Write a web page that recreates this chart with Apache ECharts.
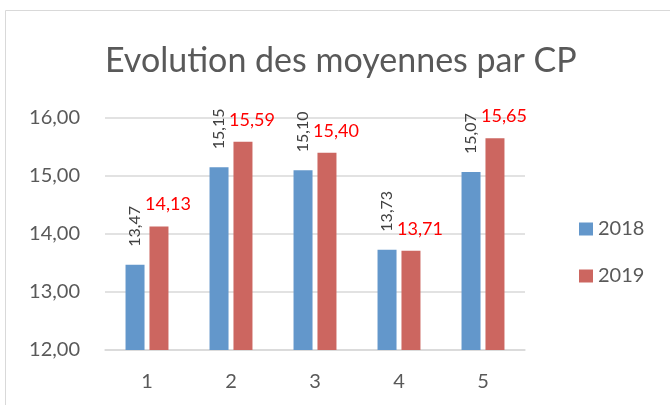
<!DOCTYPE html>
<html>
<head>
<meta charset="utf-8">
<script src="https://cdn.jsdelivr.net/npm/echarts@6/dist/echarts.min.js"></script>
<style>
  html, body { margin: 0; padding: 0; background: #fff; }
  #chart { width: 670px; height: 405px; }
</style>
</head>
<body>
<div id="chart"></div>
<script>
// categories (CP) and the two yearly averages
var categories = ["1", "2", "3", "4", "5"];
var values2018 = [13.47, 15.15, 15.10, 13.73, 15.07];
var values2019 = [14.13, 15.59, 15.40, 13.71, 15.65];
var seriesNames = ["2018", "2019"];
var yTicks = [12, 13, 14, 15, 16];

function frNum(v) {
  return Number(v).toFixed(2).replace(".", ",");
}

var myChart = echarts.init(document.getElementById("chart"));
var font = "Lato";

var option = {
  backgroundColor: "#fff",
  animation: false,
  textStyle: { fontFamily: font },
  graphic: [
    {
      type: "rect",
      shape: { x: 5.5, y: 10.5, width: 700, height: 420 },
      style: { fill: "none", stroke: "#d9d9d9", lineWidth: 1 },
      silent: true,
    },
  ],
  title: {
    text: "Evolution des moyennes par CP",
    left: 105,
    top: 44,
    padding: 0,
    textStyle: { fontFamily: font, fontSize: 34, fontWeight: "normal", color: "#595959" },
  },
  legend: {
    orient: "vertical",
    left: 574,
    top: 214,
    itemWidth: 14,
    itemHeight: 13,
    itemGap: 27,
    icon: "rect",
    data: seriesNames,
    textStyle: { fontFamily: font, fontSize: 20, color: "#595959" },
  },
  grid: { left: 105, right: 145, top: 118, bottom: 55 },
  xAxis: {
    type: "category",
    data: categories,
    axisLine: { lineStyle: { color: "#d9d9d9", width: 1.5 } },
    axisTick: { show: false },
    axisLabel: { color: "#595959", fontSize: 20, margin: 22 },
  },
  yAxis: {
    type: "value",
    min: yTicks[0],
    max: yTicks[yTicks.length - 1],
    interval: 1,
    axisLine: { show: false },
    axisTick: { show: false },
    splitLine: { lineStyle: { color: "#d9d9d9", width: 1.5 } },
    axisLabel: { color: "#595959", fontSize: 20, margin: 25, formatter: frNum },
  },
  series: [
    {
      name: seriesNames[0],
      type: "bar",
      data: values2018,
      barWidth: 19,
      barGap: "26%",
      itemStyle: { color: "#6397cb" },
      label: {
        show: true,
        position: "top",
        rotate: 90,
        align: "left",
        verticalAlign: "middle",
        distance: 18,
        color: "#404040",
        fontSize: 16,
        formatter: function (p) { return frNum(p.value); },
      },
    },
    {
      name: seriesNames[1],
      type: "bar",
      data: values2019,
      barWidth: 19,
      itemStyle: { color: "#cc6660" },
      label: {
        show: true,
        position: "top",
        distance: 5,
        offset: [9, -8],
        color: "#ff0000",
        fontSize: 18,
        formatter: function (p) { return frNum(p.value); },
      },
    },
  ],
};

myChart.setOption(option);
</script>
</body>
</html>
